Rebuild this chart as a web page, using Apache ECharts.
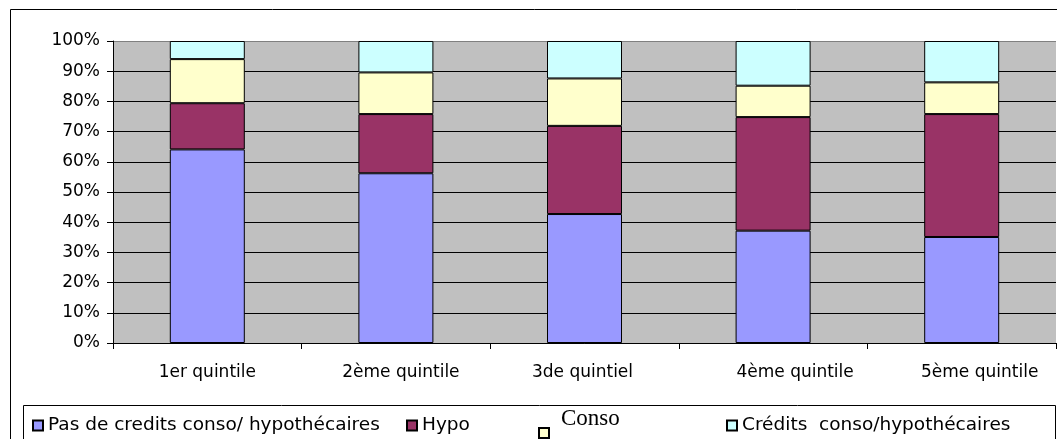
<!DOCTYPE html>
<html>
<head>
<meta charset="utf-8">
<script src="https://cdn.jsdelivr.net/npm/echarts@6/dist/echarts.min.js"></script>
<style>
  html, body { margin: 0; padding: 0; background: #fff; }
  #chart { width: 1057px; height: 439px; }
</style>
</head>
<body>
<div id="chart"></div>
<script>
// Household credit structure by income quintile (shares, %)
const categories = ['1er quintile', '2ème quintile', '3de quintiel', '4ème quintile', '5ème quintile'];
const seriesNames = ['Pas de credits conso/ hypothécaires', 'Hypo', 'Conso', 'Crédits  conso/hypothécaires'];
const pasDeCredits = [64.1, 56.2, 42.7, 37.2, 35.1];
const hypo = [15.3, 19.6, 29.2, 37.6, 40.7];
const conso = [14.6, 13.8, 15.7, 10.4, 10.5];
const creditsConsoHypo = [6.0, 10.4, 12.4, 14.8, 13.7];
const yTicks = [0, 10, 20, 30, 40, 50, 60, 70, 80, 90, 100];

const colors = ['#9999FF', '#993366', '#FFFFCC', '#CCFFFF'];
const values = [pasDeCredits, hypo, conso, creditsConsoHypo];
const FONT = 'DejaVu Sans';

// horizontal nudge of each category label (px, positive = right)
const labelShift = [0, 5, -2, 22, 18];

const chart = echarts.init(document.getElementById('chart'), null, { renderer: 'canvas' });

function legendFor(i, left, top, extra) {
  return Object.assign({
    data: [seriesNames[i]],
    left: left,
    top: top,
    padding: 0,
    icon: 'rect',
    itemWidth: 10,
    itemHeight: 10,
    selectedMode: false,
    textStyle: { fontFamily: FONT, fontSize: 18.5, color: '#000' }
  }, extra || {});
}

const labelRich = {};
labelShift.forEach((s, i) => {
  labelRich['c' + i] = {
    fontFamily: FONT, fontSize: 17, color: '#000',
    padding: s >= 0 ? [0, 0, 0, 2 * s] : [0, -2 * s, 0, 0]
  };
});

const option = {
  animation: false,
  backgroundColor: '#ffffff',
  grid: {
    left: 113,
    right: 1,
    top: 41,
    bottom: 96,
    show: true,
    backgroundColor: '#C0C0C0',
    borderWidth: 0
  },
  xAxis: {
    type: 'category',
    data: categories,
    boundaryGap: true,
    axisLine: { lineStyle: { color: '#000', width: 1 } },
    axisTick: { show: true, length: 6, lineStyle: { color: '#000' } },
    axisLabel: {
      color: '#000', fontFamily: FONT, fontSize: 17, margin: 21, interval: 0,
      formatter: (v, idx) => '{c' + idx + '|' + v + '}',
      rich: labelRich
    },
    splitLine: { show: false }
  },
  yAxis: {
    type: 'value',
    min: yTicks[0],
    max: yTicks[yTicks.length - 1],
    interval: 10,
    axisLine: { show: true, lineStyle: { color: '#000', width: 1 } },
    axisTick: { show: true, length: 6, lineStyle: { color: '#000' } },
    axisLabel: {
      color: '#000', fontFamily: FONT, fontSize: 17, margin: 13,
      formatter: v => v + '%'
    },
    splitLine: {
      show: true,
      lineStyle: {
        color: ['#000', '#000', '#000', '#000', '#000', '#000', '#000', '#000', '#000', '#000', '#808080'],
        width: 1
      }
    }
  },
  legend: [
    legendFor(0, 32, 416),
    legendFor(1, 406, 416),
    // marker only; its label is drawn separately in a serif face, raised above the marker
    legendFor(2, 538, 427, { formatter: () => '' }),
    legendFor(3, 726, 416)
  ],
  graphic: [
    {
      type: 'rect',
      shape: { x: 10.5, y: 9.5, width: 1200, height: 600 },
      style: { fill: 'none', stroke: '#000', lineWidth: 1 },
      silent: true,
      z: -1
    },
    {
      type: 'rect',
      shape: { x: 23.5, y: 405.5, width: 1032, height: 60 },
      style: { fill: 'none', stroke: '#000', lineWidth: 1 },
      silent: true,
      z: -1
    },
    {
      type: 'text',
      left: 561,
      top: 407,
      style: {
        text: seriesNames[2],
        fontFamily: 'Liberation Serif',
        fontSize: 23,
        fill: '#000'
      },
      silent: true
    }
  ],
  series: values.map((arr, i) => ({
    name: seriesNames[i],
    type: 'bar',
    stack: 'total',
    barWidth: 75,
    data: arr,
    itemStyle: { color: colors[i], borderColor: '#000', borderWidth: 1 },
    emphasis: { disabled: true }
  }))
};

chart.setOption(option);
</script>
</body>
</html>
